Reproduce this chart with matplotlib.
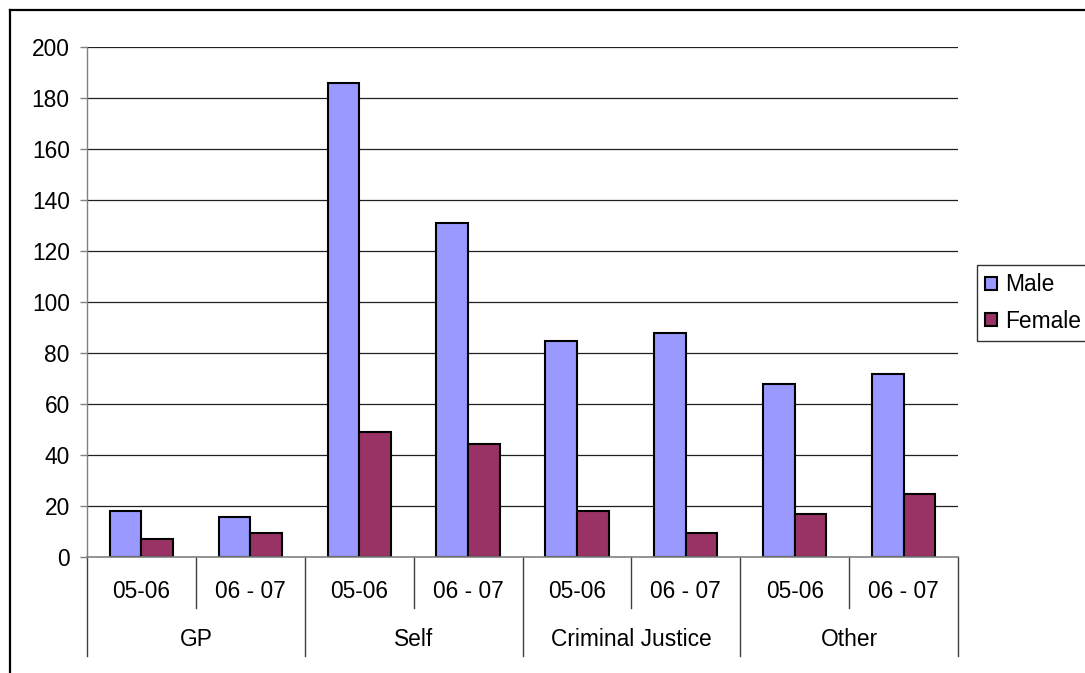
import matplotlib
matplotlib.use("Agg")
import matplotlib.pyplot as plt
import matplotlib.transforms as mtransforms
from matplotlib.lines import Line2D
import numpy as np

# Referral source by year, split by gender
groups = ["GP", "Self", "Criminal Justice", "Other"]
years = ["05-06", "06 - 07"]
male = [18, 16, 186, 131, 85, 88, 68, 72]
female = [7, 9.5, 49, 44.5, 18, 9.5, 17, 25]
yticks = [0, 20, 40, 60, 80, 100, 120, 140, 160, 180, 200]

male_color = "#9999FF"
female_color = "#993366"

plt.rcParams["font.family"] = ["Liberation Sans", "DejaVu Sans"]
plt.rcParams["font.size"] = 16.4

W, H = 1085, 673
fig = plt.figure(figsize=(W / 100, H / 100), dpi=100)
fig.patch.set_facecolor("white")

left, right, top, bottom = 87, 958, 47.3, 557.3
ax = fig.add_axes([left / W, (H - bottom) / H, (right - left) / W, (bottom - top) / H])

n = len(male)
x = np.arange(n)
bw = 0.29
bars_m = ax.bar(x - bw / 2, male, width=bw, color=male_color, edgecolor="black",
                linewidth=1.5, label="Male", zorder=3)
bars_f = ax.bar(x + bw / 2, female, width=bw, color=female_color, edgecolor="black",
                linewidth=1.5, label="Female", zorder=3)

ax.set_xlim(-0.5, n - 0.5)
ax.set_ylim(0, 200)
ax.set_yticks(yticks)
ax.set_yticklabels([str(v) for v in yticks])
ax.set_xticks([])

# horizontal gridlines
for v in yticks[1:]:
    ax.axhline(v, color="#202020", linewidth=0.9, zorder=1)

for s in ["top", "right"]:
    ax.spines[s].set_visible(False)
ax.spines["left"].set_color("#808080")
ax.spines["left"].set_linewidth(1.0)
ax.spines["bottom"].set_color("#808080")
ax.spines["bottom"].set_linewidth(1.2)
ax.spines["bottom"].set_zorder(4)
ax.tick_params(axis="y", direction="out", length=5, width=1.0, color="#808080",
               pad=7.5, labelsize=16.4)

# two-level category axis
trans = mtransforms.blended_transform_factory(ax.transData, ax.transAxes)
inner_depth = -(607.7 - bottom) / (bottom - top)
outer_depth = -(656.0 - bottom) / (bottom - top)
for i in range(len(groups)):
    ax.add_line(Line2D([2 * i + 0.5, 2 * i + 0.5], [0, inner_depth], transform=trans,
                       color="#404040", linewidth=1.0, clip_on=False))
for i in range(len(groups) + 1):
    ax.add_line(Line2D([2 * i - 0.5, 2 * i - 0.5], [0, outer_depth], transform=trans,
                       color="#404040", linewidth=1.0, clip_on=False))

sub_y = -(591.7 - bottom) / (bottom - top)
grp_y = -(639.0 - bottom) / (bottom - top)
for i in range(n):
    ax.text(i, sub_y, years[i % 2], transform=trans, ha="center", va="center", fontsize=16.4)
for i, g in enumerate(groups):
    ax.text(2 * i + 0.5, grp_y, g, transform=trans, ha="center", va="center", fontsize=16.4)

# legend
leg = fig.legend(handles=[bars_m, bars_f], labels=["Male", "Female"],
                 loc="upper left", bbox_to_anchor=(976.7 / W, (H - 264.7) / H),
                 fontsize=16.4, frameon=True, fancybox=False, borderaxespad=0,
                 handlelength=0.5, handleheight=0.5, handletextpad=0.35,
                 labelspacing=0.58, borderpad=0.38)
leg.get_frame().set_edgecolor("#000000")
leg.get_frame().set_linewidth(1.0)

# chart frame
fig.add_artist(Line2D([10 / W, 10 / W], [(H - 10) / H, 0], transform=fig.transFigure,
                      color="black", linewidth=1.6))
fig.add_artist(Line2D([10 / W, 1], [(H - 10) / H, (H - 10) / H], transform=fig.transFigure,
                      color="black", linewidth=1.6))

fig.savefig("out.png", dpi=100)
